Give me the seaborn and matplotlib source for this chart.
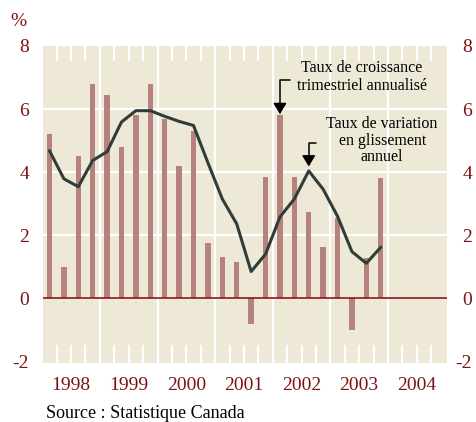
import matplotlib
matplotlib.use("Agg")
import matplotlib.pyplot as plt
import seaborn as sns
import pandas as pd
from matplotlib.transforms import ScaledTranslation

# data (quarters 1998T1 .. 2003T4)
years = [1998, 1999, 2000, 2001, 2002, 2003, 2004]
quarters = ["T1", "T2", "T3", "T4"]
quarterly_rate = [5.2, 1.0, 4.5, 6.8,
                  6.45, 4.8, 5.8, 6.8,
                  5.7, 4.2, 5.3, 1.75,
                  1.3, 1.15, -0.8, 3.85,
                  5.8, 3.85, 2.73, 1.64,
                  2.54, -1.0, 1.28, 3.8]
yoy_rate = [4.68, 3.79, 3.54, 4.37,
            4.65, 5.59, 5.95, 5.95,
            5.77, 5.61, 5.48, 4.3,
            3.15, 2.36, 0.85, 1.4,
            2.58, 3.15, 4.04, 3.46,
            2.6, 1.48, 1.11, 1.62]
y_ticks = [-2, 0, 2, 4, 6, 8]

BG = "#EEE9D7"
BAR = "#B58280"
LINE = "#2F3D38"
RED = "#7D1214"

sns.set_style("white")
plt.rcParams["font.family"] = ["Liberation Serif", "DejaVu Serif"]

periods = [f"{y}{q}" for y in years[:-1] for q in quarters]
df = pd.DataFrame({
    "periode": periods,
    "pos": range(len(periods)),
    "trim": quarterly_rate,
    "gliss": yoy_rate,
})

fig = plt.figure(figsize=(4.77, 4.22), dpi=100)
ax = fig.add_axes([43 / 477, 1 - 363 / 422, (447 - 43) / 477, (363 - 46) / 422])
ax.set_facecolor(BG)

sns.barplot(data=df, x="pos", y="trim", native_scale=True, width=0.38,
            color=BAR, saturation=1, errorbar=None, linewidth=0,
            edgecolor="none", ax=ax, zorder=2)
sns.lineplot(data=df, x="pos", y="gliss", color=LINE, lw=2.2, ax=ax, zorder=4)

ax.set_xlim(-0.45, 27.6)
ax.set_ylim(-2.05, 8.0)

# white grid: horizontal at 2/4/6, vertical at year boundaries
for v in [2, 4, 6]:
    ax.axhline(v, color="white", lw=1.6, zorder=1)
for i in range(1, len(years)):
    ax.axvline(4 * i - 0.5, color="white", lw=1.6, zorder=1)
# short white quarter marks at top and bottom
qb = [k - 0.5 for k in range(1, 28)]
xt = ax.get_xaxis_transform()
ax.vlines(qb, 0.953, 1.0, transform=xt, color="white", lw=1.5, zorder=1)
ax.vlines(qb, 0.0, 0.057, transform=xt, color="white", lw=1.5, zorder=1)
ax.axhline(0, color="#8A1A1A", lw=1.2, zorder=3)

# x axis: year labels in the middle of each year
ax.set_xticks([4 * i + 1.5 for i in range(len(years))])
ax.set_xticklabels([str(y) for y in years])
ax.tick_params(axis="x", which="both", length=0, pad=10, labelsize=14, labelcolor=RED)

ax.set_yticks(y_ticks)
ax.set_yticklabels([str(v) for v in y_ticks])
ax.tick_params(axis="y", length=0, labelsize=14, labelcolor=RED,
               labelleft=True, labelright=True, pad=10)
# right labels right-aligned near the figure edge
off = ScaledTranslation(11 / 100, 0, fig.dpi_scale_trans)
for t in ax.yaxis.get_major_ticks():
    t.label2.set_horizontalalignment("right")
    t.label2.set_transform(t.label2.get_transform() + off)
ax.set_xlabel("")
ax.set_ylabel("")
for s in ax.spines.values():
    s.set_visible(False)

# annotations
arrow = dict(arrowstyle="-|>,head_length=0.33,head_width=0.2", color="black",
             lw=1.1, shrinkA=0, shrinkB=0, mutation_scale=20,
             connectionstyle="angle,angleA=0,angleB=90,rad=0")
ax.annotate("", xy=(16, 5.84), xytext=(16.7, 6.93), arrowprops=arrow, zorder=5)
ax.annotate("", xy=(18, 4.18), xytext=(18.5, 4.93), arrowprops=arrow, zorder=5)
ax.text(21.7, 7.02, "Taux de croissance\ntrimestriel annualisé", ha="center",
        va="center", fontsize=11.5, linespacing=1.2, color="black", zorder=5)
ax.text(23.1, 5.0, "Taux de variation\nen glissement\nannuel", ha="center",
        va="center", fontsize=11.5, linespacing=1.05, color="black", zorder=5)

fig.text(18 / 477, 1 - 22 / 422, "%", ha="center", va="center", fontsize=14, color=RED)
fig.text(46 / 477, 1 - 413 / 422, "Source : Statistique Canada", ha="left",
         va="center", fontsize=13, color="black")

fig.savefig("out.png", dpi=100, facecolor="white")
